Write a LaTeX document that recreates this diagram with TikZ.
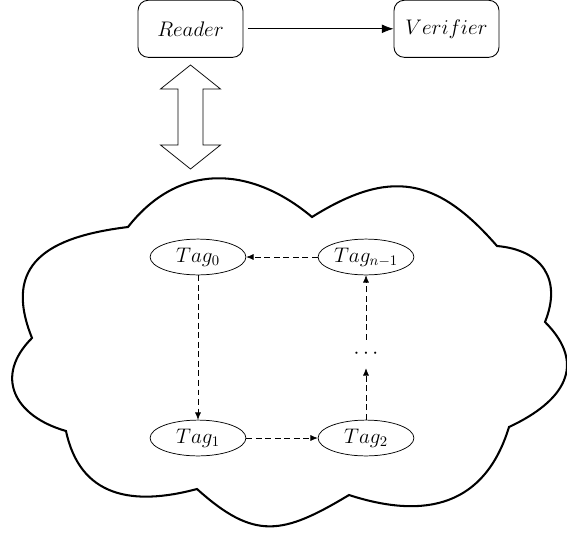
\documentclass[tikz,border=0pt]{standalone}
\usepackage{tikz}
\usetikzlibrary{arrows.meta,positioning,shapes.geometric,calc}

\begin{document}
\begin{tikzpicture}[x=0.024cm,y=0.024cm,every node/.style={font=\fontsize{14.5}{16}\selectfont},
  party/.style={draw,rounded corners=7pt,line width=0.6pt,minimum width=2.52cm,minimum height=1.37cm,inner sep=0pt},
  tag/.style={draw,ellipse,line width=0.5pt,minimum width=2.3cm,minimum height=0.86cm,inner sep=0pt},
  hop/.style={dash pattern=on 4pt off 2.5pt,line width=0.5pt,-{Latex[length=5pt,width=4.2pt]}}]
  \useasboundingbox (0,0) rectangle (567,-535);
  % reader and verifier
  \node[party] (reader) at (190.5,-28.8) {$Reader$};
  \node[party] (verifier) at (446.5,-28.8) {$Verifier$};
  \draw[line width=0.5pt,-{Latex[length=8pt,width=6pt]},shorten <=3pt] (reader) -- (verifier);
  % two-way arrow
  \coordinate (up) at (190.5,-65); \coordinate (dn) at (190.5,-169);
  \draw[line width=0.5pt] (up) -- ++(30,-24) -- ++(-17.5,0) -- ++(0,-56) -- ++(17.5,0) -- (dn)
    -- ++(-30,24) -- ++(17.5,0) -- ++(0,56) -- ++(-17.5,0) -- cycle;
  % cloud
  \foreach \n/\x/\y in {1/128/227,2/312/217,3/497/246,4/545/322,5/509/427,6/349/495,7/197/489,8/66/431,9/32/338}
    \coordinate (c\n) at (\x,-\y);
  \draw[line width=1.4pt] (c1) to[out=52,in=140,looseness=1.13] (c2) to[out=32,in=131,looseness=1.25] (c3)
    to[out=-5,in=68,looseness=1.3] (c4) to[out=-45,in=25,looseness=1.4] (c5) to[out=-107,in=-18,looseness=1.2] (c6)
    to[out=-149,in=-42,looseness=1.3] (c7) to[out=-165,in=-78,looseness=1.2] (c8) to[out=164,in=-135,looseness=1.4] (c9)
    to[out=112,in=187,looseness=1.4] (c1) -- cycle;
  % tags
  \node[tag] (t0) at (198,-257) {$Tag_0$};
  \node[tag] (tn) at (366,-257) {$Tag_{n-1}$};
  \node[tag] (t1) at (198,-438) {$Tag_1$};
  \node[tag] (t2) at (366,-438) {$Tag_2$};
  \node[minimum height=0.67cm,inner sep=0pt] (dots) at (366,-354) {$\cdots$};
  \foreach \a/\b in {tn/t0,t0/t1,t1/t2,t2/dots,dots/tn} \draw[hop] (\a) -- (\b);
\end{tikzpicture}
\end{document}
